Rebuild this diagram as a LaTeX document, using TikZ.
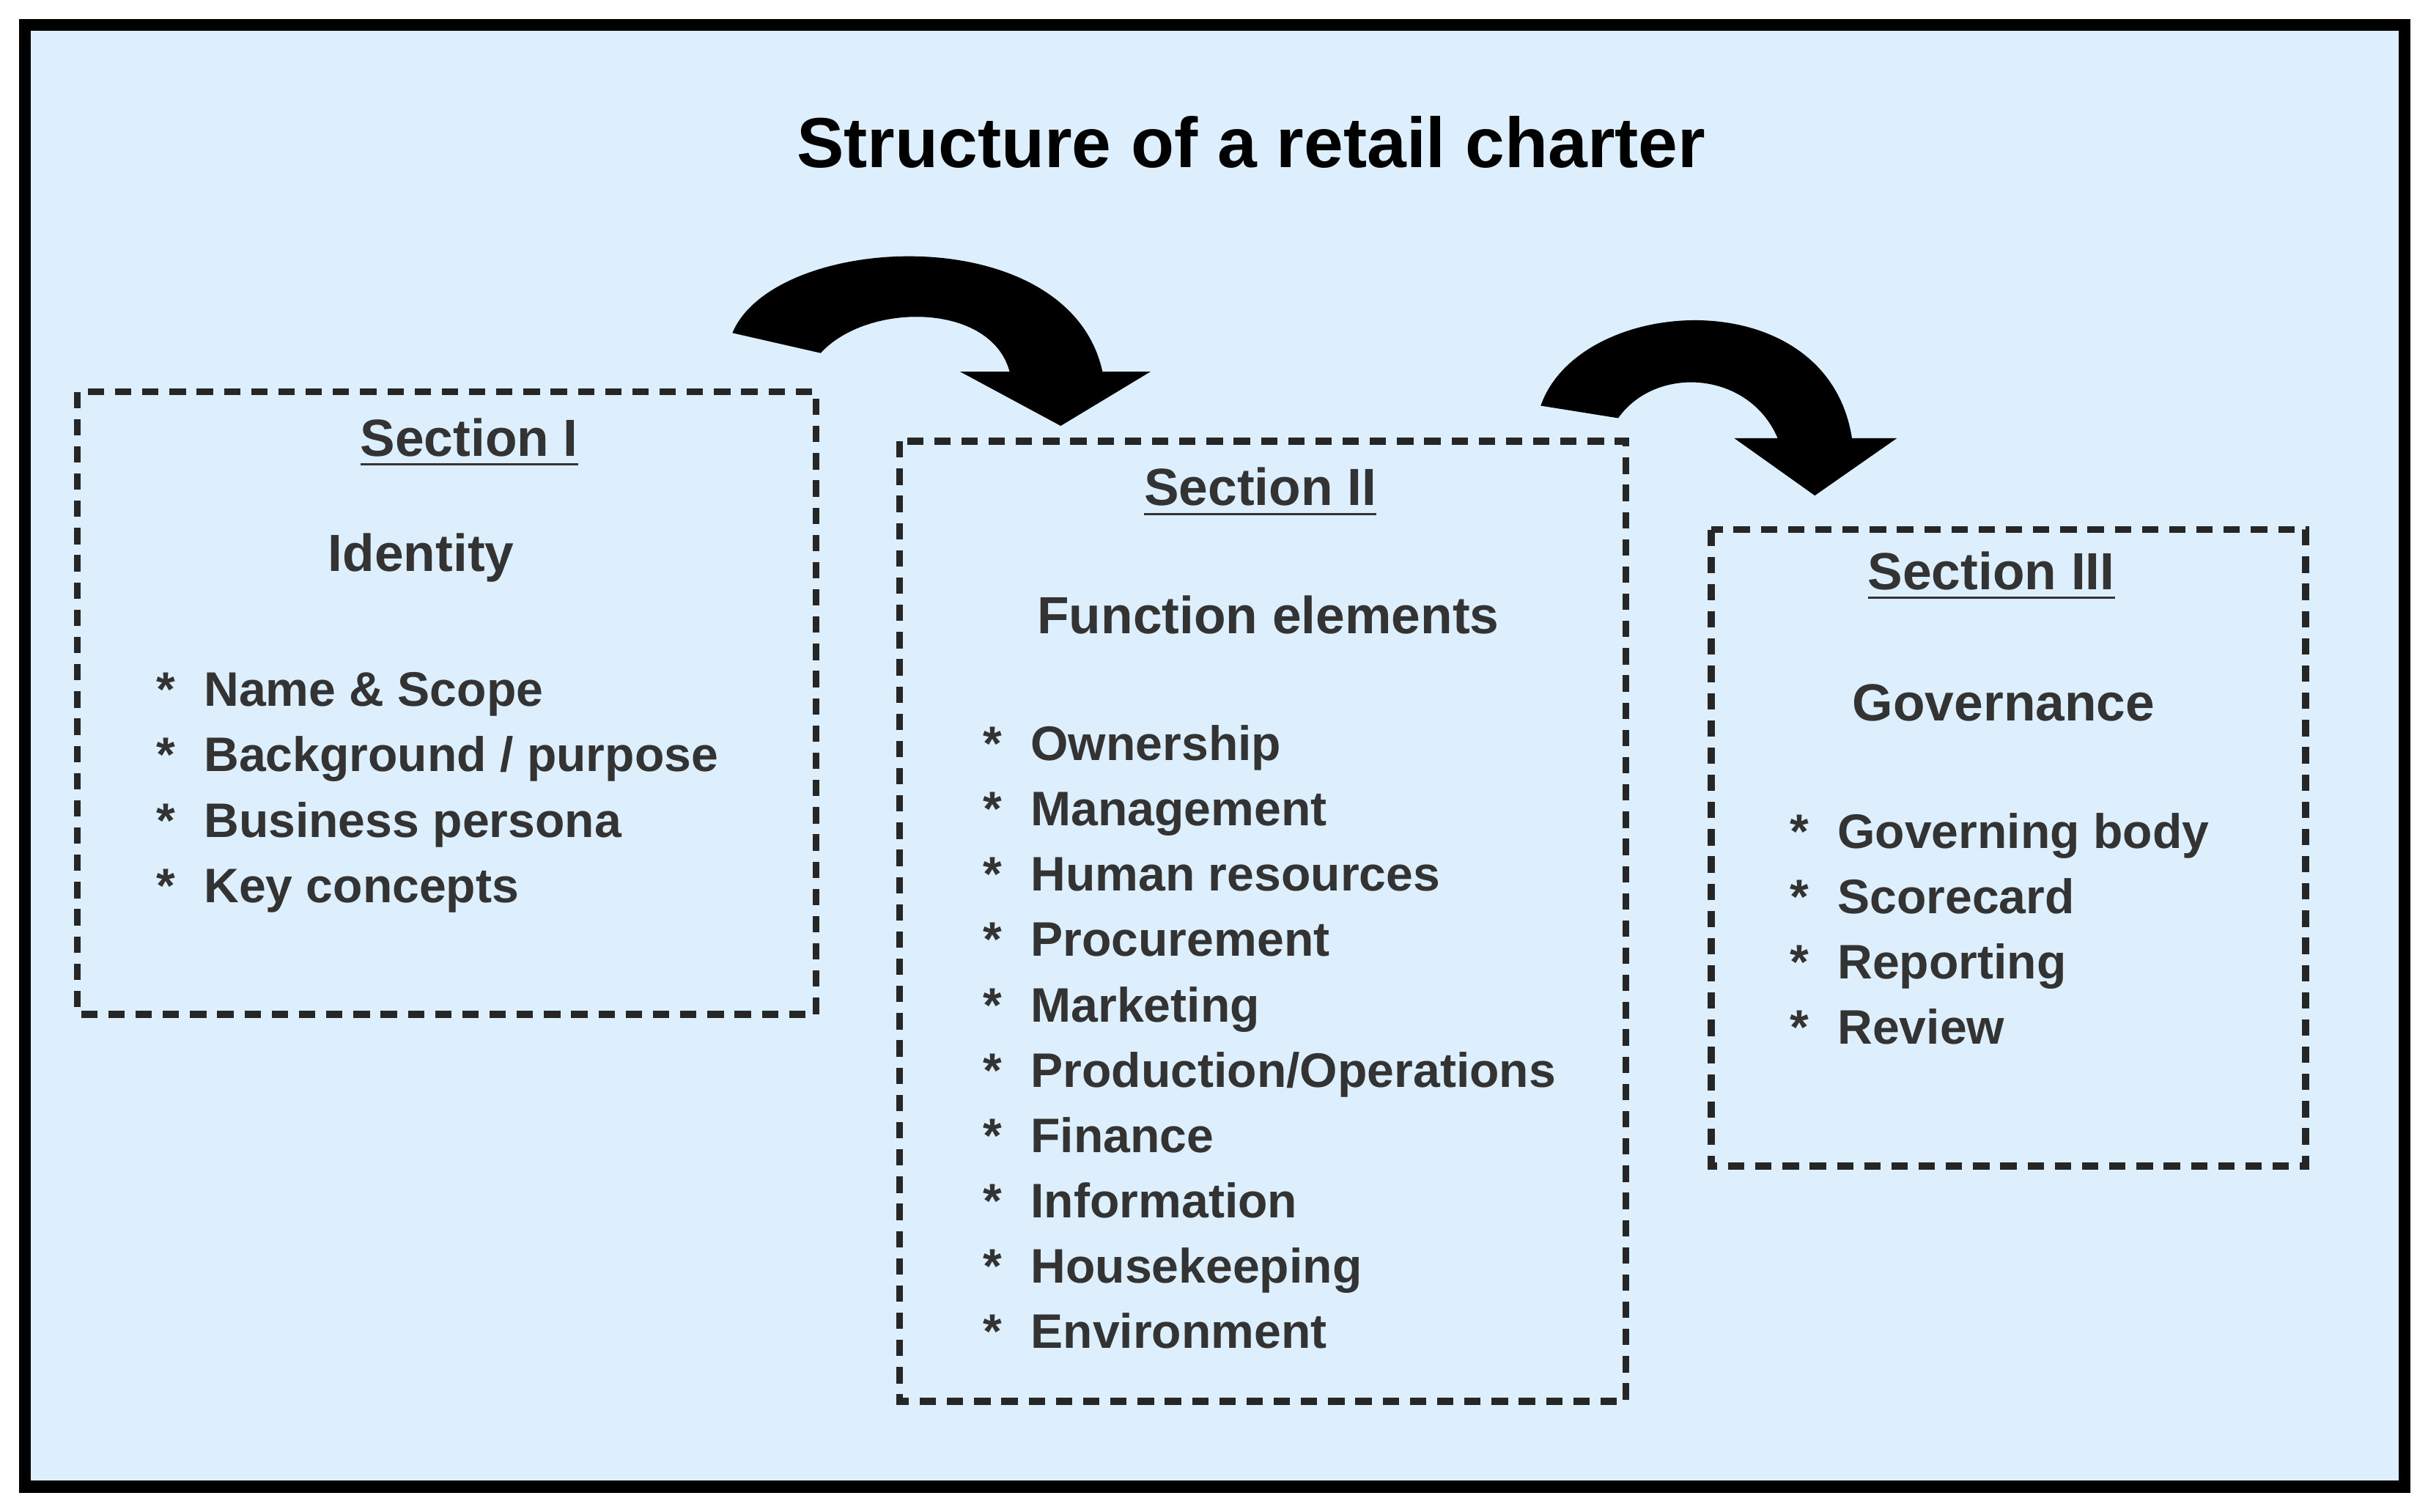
\documentclass[tikz,border=0pt]{standalone}
\usepackage{fontspec}
\setmainfont{Liberation Sans}
\begin{document}
\begin{tikzpicture}[x=0.01cm,y=-0.01cm,
  box/.style={draw=black!85,line width=1.3pt,dash pattern=on 3pt off 2pt},
  hd/.style={font=\fontsize{9.6}{12}\selectfont\bfseries,text=black!80},
  it/.style={font=\fontsize{8.9}{11}\selectfont\bfseries,anchor=base west,inner sep=0pt,text=black!80},
  st/.style={font=\fontsize{8.9}{11}\selectfont\bfseries,anchor=base,inner sep=0pt,text=black!80},
  arr/.style={fill=black}]
\useasboundingbox (0,0) rectangle (1568,976);
\fill[white] (0,0) rectangle (1568,976);
\draw[line width=2.2pt,fill={rgb,255:red,221;green,239;blue,253}] (16,16) rectangle (1553,960);
\node[font=\fontsize{13}{16}\selectfont\bfseries] (title) at (808,92) {Structure of a retail charter};
% arrows
\fill[arr] (473,215) .. controls (500,150) and (690,140) .. (712,240) -- (743,240) -- (685,275) -- (620,240) -- (652,240) .. controls (640,195) and (560,195) .. (530,228) -- cycle;
\fill[arr] (995,262) .. controls (1020,190) and (1180,180) .. (1196,283) -- (1225,283) -- (1172,320) -- (1120,283) -- (1148,283) .. controls (1130,240) and (1070,235) .. (1045,270) -- cycle;
% boxes
\draw[box] (50,253) rectangle (527,655);
\draw[box] (581,285) rectangle (1050,905);
\draw[box] (1105,342) rectangle (1489,753);
% Section I
\node[hd] (s1) at (303,286) {\underline{Section I}};
\node[hd] (id) at (272,360) {Identity};
\foreach \t [count=\i] in {Name \& Scope,Background / purpose,Business persona,Key concepts}{
  \node[st] (s1s\i) at (107,{446+(\i-1)*42.3+10}) {*};
  \node[it] (s1t\i) at (131,{446+(\i-1)*42.3+10}) {\t};}
% Section II
\node[hd] (s2) at (814,318) {\underline{Section II}};
\node[hd] (fe) at (819,397) {Function elements};
\foreach \t [count=\i] in {Ownership,Management,Human resources,Procurement,Marketing,Production/Operations,Finance,Information,Housekeeping,Environment}{
  \node[st] (s2s\i) at (641,{481+(\i-1)*42.2+10}) {*};
  \node[it] (s2t\i) at (665,{481+(\i-1)*42.2+10}) {\t};}
% Section III
\node[hd] (s3) at (1286,372) {\underline{Section III}};
\node[hd] (gv) at (1294,454) {Governance};
\foreach \t [count=\i] in {Governing body,Scorecard,Reporting,Review}{
  \node[st] (s3s\i) at (1162,{538+(\i-1)*42+10}) {*};
  \node[it] (s3t\i) at (1186,{538+(\i-1)*42+10}) {\t};}
\end{tikzpicture}
\end{document}
